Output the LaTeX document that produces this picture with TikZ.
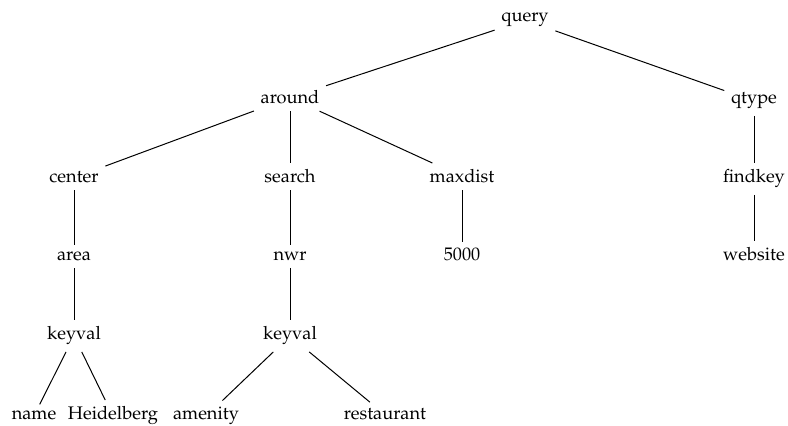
\documentclass[tikz,border=0pt]{standalone}
\usepackage[T1]{fontenc}
\usepackage{mathpazo}
\begin{document}
\begin{tikzpicture}[x=0.5pt,y=-0.5pt,
  tn/.style={inner sep=3.2pt, anchor=base, font=\fontsize{9.1}{11}\selectfont},
  edge/.style={line width=0.5pt}]
\useasboundingbox (0,0) rectangle (788,426);
\node[tn] (query) at (525,22) {query};
\node[tn] (around) at (290,104) {around};
\node[tn] (qtype) at (754,104) {qtype};
\node[tn] (center) at (74,183) {center};
\node[tn] (search) at (290,183) {search};
\node[tn] (maxdist) at (462,183) {maxdist};
\node[tn] (findkey) at (754,183) {findkey};
\node[tn] (area) at (74,261) {area};
\node[tn] (nwr) at (290,261) {nwr};
\node[tn] (n5000) at (462,261) {5000};
\node[tn] (website) at (754,261) {website};
\node[tn] (kv1) at (74,340) {keyval};
\node[tn] (kv2) at (290,340) {keyval};
\node[tn] (name) at (34,420) {name};
\node[tn] (heid) at (113,420) {Heidelberg};
\node[tn] (amenity) at (206,420) {amenity};
\node[tn] (rest) at (385,420) {restaurant};
\draw[edge] (query) -- (around);
\draw[edge] (query) -- (qtype);
\draw[edge] (around) -- (center);
\draw[edge] (around) -- (search);
\draw[edge] (around) -- (maxdist);
\draw[edge] (qtype) -- (findkey);
\draw[edge] (center) -- (area);
\draw[edge] (search) -- (nwr);
\draw[edge] (maxdist) -- (n5000);
\draw[edge] (findkey) -- (website);
\draw[edge] (area) -- (kv1);
\draw[edge] (nwr) -- (kv2);
\draw[edge] (kv1) -- (name);
\draw[edge] (kv1) -- (heid);
\draw[edge] (kv2) -- (amenity);
\draw[edge] (kv2) -- (rest);
\end{tikzpicture}
\end{document}
